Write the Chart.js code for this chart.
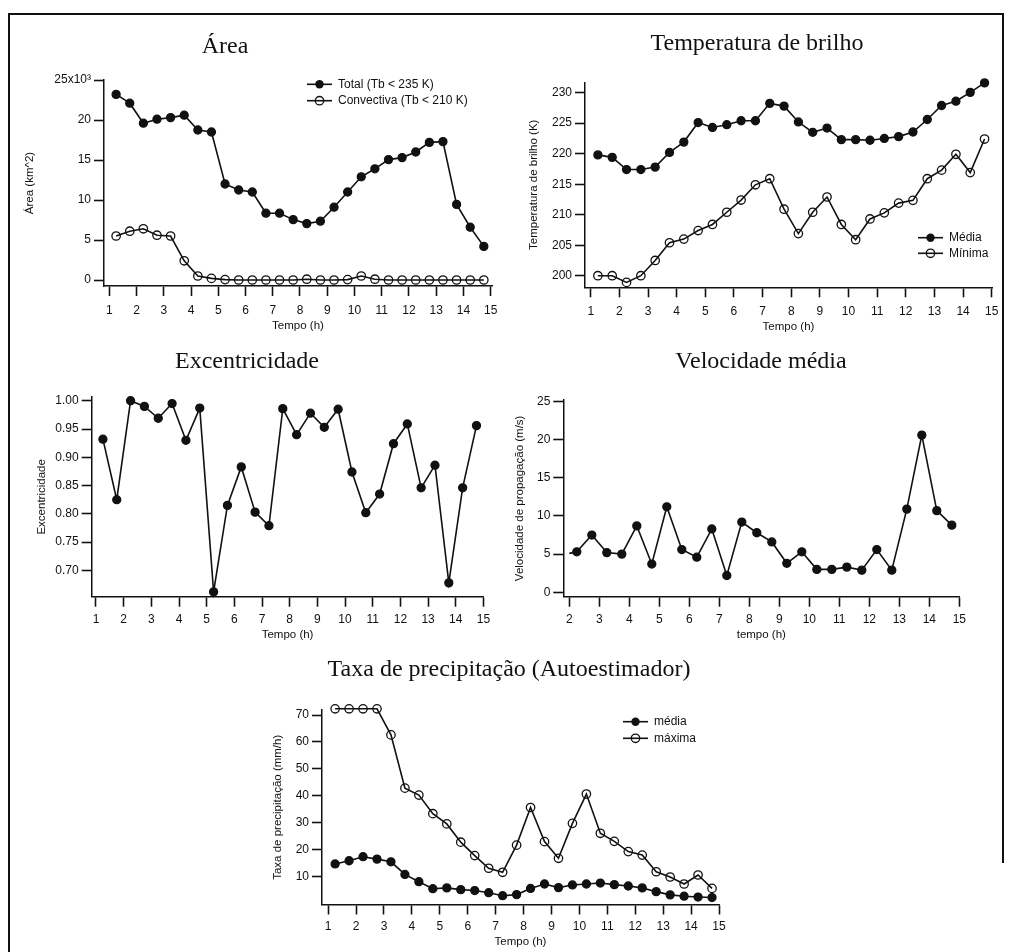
<!DOCTYPE html>
<html lang="pt">
<head>
<meta charset="utf-8">
<title>Evolução do sistema convectivo</title>
<script src="https://cdn.jsdelivr.net/npm/chart.js@4.4.1/dist/chart.umd.min.js"></script>
<style>
  html, body { margin: 0; padding: 0; background: #fff; }
  #page { position: relative; width: 1011px; height: 952px; overflow: hidden; background: #fff; }
  #page canvas { position: absolute; left: 0; top: 0; }
  .rule { position: absolute; background: #111; }
</style>
</head>
<body>
<div id="page">
  <div class="rule" style="left:8px; top:13px; width:2px; height:939px;"></div>
  <div class="rule" style="left:8px; top:13px; width:996px; height:2px;"></div>
  <div class="rule" style="left:1002px; top:13px; width:2px; height:850px;"></div>
  <canvas id="cArea" width="1011" height="952"></canvas>
  <canvas id="cTb" width="1011" height="952"></canvas>
  <canvas id="cExc" width="1011" height="952"></canvas>
  <canvas id="cVel" width="1011" height="952"></canvas>
  <canvas id="cPrec" width="1011" height="952"></canvas>
</div>
<script>
// tempo (h) of each observation
const tempoH = [1.25, 1.75, 2.25, 2.75, 3.25, 3.75, 4.25, 4.75, 5.25, 5.75, 6.25, 6.75, 7.25, 7.75,
  8.25, 8.75, 9.25, 9.75, 10.25, 10.75, 11.25, 11.75, 12.25, 12.75, 13.25, 13.75, 14.25, 14.75];
const tempoVel = [2.0, 2.25, 2.75, 3.25, 3.75, 4.25, 4.75, 5.25, 5.75, 6.25, 6.75, 7.25, 7.75,
  8.25, 8.75, 9.25, 9.75, 10.25, 10.75, 11.25, 11.75, 12.25, 12.75, 13.25, 13.75, 14.25, 14.75];

// Área (x10^3 km^2)
const areaTotal = [23.2, 22.1, 19.6, 20.1, 20.3, 20.6, 18.75, 18.5, 12.0, 11.25, 11.0, 8.35, 8.35, 7.55,
  7.05, 7.35, 9.1, 11.0, 12.9, 13.9, 15.05, 15.3, 16.0, 17.2, 17.3, 9.45, 6.6, 4.2];
const areaConv = [5.5, 6.1, 6.4, 5.6, 5.5, 2.4, 0.5, 0.2, 0.05, 0, 0, 0, 0, 0,
  0.1, 0, 0, 0.05, 0.5, 0.1, 0, 0, 0, 0, 0, 0, 0, 0];

// Temperatura de brilho (K)
const tbMedia = [219.8, 219.4, 217.4, 217.4, 217.8, 220.2, 221.9, 225.1, 224.3, 224.75, 225.4, 225.4, 228.25, 227.8,
  225.2, 223.5, 224.2, 222.3, 222.3, 222.2, 222.5, 222.8, 223.55, 225.6, 227.9, 228.6, 230.05, 231.6];
const tbMinima = [200, 200, 198.9, 200, 202.5, 205.4, 206, 207.4, 208.4, 210.4, 212.4, 214.9, 215.9, 210.9,
  206.9, 210.4, 212.9, 208.4, 205.9, 209.3, 210.3, 211.9, 212.35, 215.9, 217.3, 219.9, 216.9, 222.4];

// Excentricidade
const excentricidade = [0.932, 0.825, 1.0, 0.990, 0.969, 0.995, 0.930, 0.987, 0.662, 0.815, 0.883, 0.803, 0.779, 0.986,
  0.940, 0.978, 0.953, 0.985, 0.874, 0.802, 0.835, 0.924, 0.959, 0.846, 0.886, 0.678, 0.846, 0.956];

// Velocidade de propagação (m/s)
const velocidade = [5.1, 5.3, 7.5, 5.2, 5.0, 8.7, 3.7, 11.2, 5.6, 4.6, 8.3, 2.2, 9.2,
  7.8, 6.6, 3.8, 5.3, 3.0, 3.0, 3.3, 2.9, 5.6, 2.9, 10.9, 20.6, 10.7, 8.8];

// Taxa de precipitação (mm/h)
const precMedia = [14.6, 15.8, 17.3, 16.4, 15.4, 10.7, 8.0, 5.4, 5.7, 5.05, 4.7, 3.9, 2.8, 3.2,
  5.5, 7.15, 5.8, 6.8, 7.15, 7.5, 6.9, 6.4, 5.7, 4.3, 3.1, 2.6, 2.3, 2.1];
const precMaxima = [72.3, 72.3, 72.3, 72.3, 62.6, 42.8, 40.2, 33.3, 29.5, 22.7, 17.7, 13.0, 11.5, 21.6,
  35.6, 22.9, 16.7, 29.7, 40.6, 26.0, 23.0, 19.2, 17.9, 11.7, 9.75, 7.15, 10.5, 5.5];

// tick labels
const ticksHora = [1, 2, 3, 4, 5, 6, 7, 8, 9, 10, 11, 12, 13, 14, 15];
const ticksHoraVel = [2, 3, 4, 5, 6, 7, 8, 9, 10, 11, 12, 13, 14, 15];
const ticksArea = [0, 5, 10, 15, 20, 25];
const ticksTb = [200, 205, 210, 215, 220, 225, 230];
const ticksExc = [0.70, 0.75, 0.80, 0.85, 0.90, 0.95, 1.00];
const ticksVel = [0, 5, 10, 15, 20, 25];
const ticksPrec = [10, 20, 30, 40, 50, 60, 70];

const INK = '#111';
const SANS = "'Liberation Sans', Arial, sans-serif";
const SERIF = "'Liberation Serif', 'Times New Roman', serif";
const HALF_TITLE = 11.5 * 1.2 / 2;

const pts = (xs, ys) => xs.map((x, i) => ({ x, y: ys[i] }));

function serie(label, xs, ys, open) {
  return {
    label,
    data: pts(xs, ys),
    borderColor: INK,
    borderWidth: 1.6,
    pointRadius: open ? 4.2 : 4,
    pointBorderWidth: 1.3,
    pointBorderColor: INK,
    pointBackgroundColor: open ? 'transparent' : INK,
    clip: false,
    tension: 0
  };
}

function deco(title, legend) {
  return {
    id: 'deco',
    afterDraw(chart) {
      const ctx = chart.ctx;
      ctx.save();
      ctx.fillStyle = INK;
      ctx.font = `24px ${SERIF}`;
      ctx.textAlign = 'center';
      ctx.textBaseline = 'alphabetic';
      ctx.fillText(title.text, title.x, title.y);
      if (legend) {
        ctx.font = `12px ${SANS}`;
        ctx.textAlign = 'left';
        ctx.textBaseline = 'middle';
        chart.data.datasets.forEach((ds, i) => {
          const y = legend.y + i * legend.dy;
          ctx.strokeStyle = INK;
          ctx.lineWidth = 1.6;
          ctx.beginPath();
          ctx.moveTo(legend.x, y);
          ctx.lineTo(legend.x + 25, y);
          ctx.stroke();
          ctx.beginPath();
          ctx.arc(legend.x + 12.5, y, 4.2, 0, Math.PI * 2);
          if (ds.pointBackgroundColor === 'transparent') {
            ctx.lineWidth = 1.3;
            ctx.stroke();
          } else {
            ctx.fillStyle = INK;
            ctx.fill();
          }
          ctx.fillStyle = INK;
          ctx.fillText(ds.label, legend.x + 31, y);
        });
      }
      ctx.restore();
    }
  };
}

function axis(o) {
  return {
    type: 'linear',
    position: o.position,
    min: o.min,
    max: o.max,
    afterBuildTicks: s => { s.ticks = o.ticks.map(v => ({ value: v })); },
    afterFit: s => {
      if (o.width != null) s.width = o.width;
      if (o.height != null) s.height = o.height;
    },
    grid: { display: true, drawOnChartArea: false, drawTicks: true, tickLength: 10, tickWidth: 1.6, tickColor: INK },
    border: { display: true, color: INK, width: 1.5 },
    ticks: {
      color: INK, font: { family: SANS, size: 12 }, padding: o.pad,
      autoSkip: false, maxRotation: 0, callback: o.fmt || (v => v)
    },
    title: { display: true, text: o.title, color: INK, font: { family: SANS, size: 11.5 }, padding: 0 }
  };
}

// p: plot box [left, top, right, bottom] in page pixels
function panel(id, p) {
  const [l, t, r, b] = p.plot;
  const padLeft = p.yTitleX - HALF_TITLE;
  const xBottom = p.xTitleY + HALF_TITLE;
  new Chart(document.getElementById(id), {
    type: 'line',
    data: { datasets: p.datasets },
    options: {
      responsive: false,
      animation: false,
      events: [],
      layout: { padding: { left: padLeft, top: t, right: 1011 - r, bottom: 952 - xBottom } },
      plugins: { legend: { display: false }, title: { display: false }, tooltip: { enabled: false } },
      scales: {
        x: axis({ position: 'bottom', min: p.x[0], max: p.x[1], ticks: p.xTicks, title: p.xTitle,
                  height: xBottom - b, pad: p.xPad }),
        y: axis({ position: 'left', min: p.y[0], max: p.y[1], ticks: p.yTicks, title: p.yTitle,
                  width: l - padLeft, pad: 3, fmt: p.yFmt })
      }
    },
    plugins: [deco(p.title, p.legend)]
  });
}

panel('cArea', {
  plot: [104, 80, 492, 286], x: [0.805, 15.05], y: [-0.75, 25],
  xTicks: ticksHora, yTicks: ticksArea, yTitleX: 29.5, xTitleY: 326, xPad: 7,
  xTitle: 'Tempo (h)', yTitle: 'Área (km^2)',
  yFmt: v => (v === 25 ? '25x10³' : v),
  title: { text: 'Área', x: 225, y: 53 },
  legend: { x: 307, y: 84.3, dy: 16.4 },
  datasets: [
    serie('Total (Tb < 235 K)', tempoH, areaTotal, false),
    serie('Convectiva (Tb < 210 K)', tempoH, areaConv, true)
  ]
});

panel('cTb', {
  plot: [585, 82.3, 992, 287.3], x: [0.8, 15.01], y: [198.1, 231.7],
  xTicks: ticksHora, yTicks: ticksTb, yTitleX: 533.5, xTitleY: 327, xPad: 7,
  xTitle: 'Tempo (h)', yTitle: 'Temperatura de brilho (K)',
  title: { text: 'Temperatura de brilho', x: 757, y: 50 },
  legend: { x: 918, y: 237.7, dy: 15.6 },
  datasets: [
    serie('Média', tempoH, tbMedia, false),
    serie('Mínima', tempoH, tbMinima, true)
  ]
});

panel('cExc', {
  plot: [91.7, 397, 483.4, 596.7], x: [0.845, 15.0], y: [0.6535, 1.0066],
  xTicks: ticksHora, yTicks: ticksExc, yTitleX: 42, xTitleY: 635, xPad: 6,
  xTitle: 'Tempo (h)', yTitle: 'Excentricidade',
  yFmt: v => v.toFixed(2),
  title: { text: 'Excentricidade', x: 247, y: 368 },
  datasets: [serie('Excentricidade', tempoH, excentricidade, false)]
});

const velSerie = serie('Velocidade', tempoVel, velocidade, false);
velSerie.pointRadius = c => (c.dataIndex === 0 ? 0 : 4);
panel('cVel', {
  plot: [563.3, 400, 959.3, 596.7], x: [1.8, 15.0], y: [-0.58, 25.2],
  xTicks: ticksHoraVel, yTicks: ticksVel, yTitleX: 520, xTitleY: 635, xPad: 6,
  xTitle: 'tempo (h)', yTitle: 'Velocidade de propagação (m/s)',
  title: { text: 'Velocidade média', x: 761, y: 368 },
  datasets: [velSerie]
});

panel('cPrec', {
  plot: [322, 710, 719, 904.5], x: [0.78, 15.0], y: [-0.48, 71.86],
  xTicks: ticksHora, yTicks: ticksPrec, yTitleX: 278, xTitleY: 941.7, xPad: 5,
  xTitle: 'Tempo (h)', yTitle: 'Taxa de precipitação (mm/h)',
  title: { text: 'Taxa de precipitação (Autoestimador)', x: 509, y: 676 },
  legend: { x: 623, y: 721.7, dy: 16.6 },
  datasets: [
    serie('média', tempoH, precMedia, false),
    serie('máxima', tempoH, precMaxima, true)
  ]
});
</script>
</body>
</html>
